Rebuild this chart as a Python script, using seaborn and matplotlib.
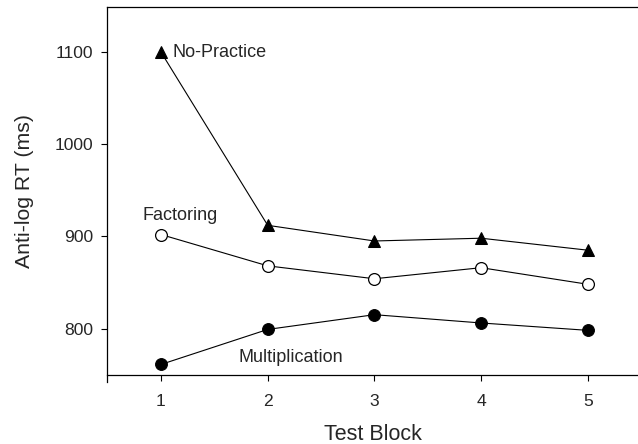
import matplotlib
matplotlib.use("Agg")
import matplotlib.pyplot as plt
import seaborn as sns

# Mean anti-log response times per test block
blocks = [1, 2, 3, 4, 5]
no_practice = [1100, 912, 895, 898, 885]
factoring = [902, 868, 854, 866, 848]
multiplication = [761, 799, 815, 806, 798]

y_ticks = [800, 900, 1000, 1100]

sns.set_style("ticks")
plt.rcParams["font.family"] = ["Liberation Sans", "DejaVu Sans"]

fig = plt.figure(figsize=(6.38, 4.44), dpi=100)
ax = fig.add_axes([0.1677, 0.1543, 0.8323, 0.830])

line_kw = dict(color="black", linewidth=0.8, ax=ax, legend=False)

sns.lineplot(x=blocks, y=no_practice, marker="^", markersize=9,
             markerfacecolor="black", markeredgecolor="black", **line_kw)
sns.lineplot(x=blocks, y=factoring, marker="o", markersize=8.5,
             markerfacecolor="white", markeredgecolor="black",
             markeredgewidth=0.9, **line_kw)
sns.lineplot(x=blocks, y=multiplication, marker="o", markersize=8.5,
             markerfacecolor="black", markeredgecolor="black", **line_kw)

# Series labels placed beside their lines
ax.text(1.11, 1100, "No-Practice", fontsize=13, va="center", ha="left")
ax.text(1.18, 923, "Factoring", fontsize=13, va="center", ha="center")
ax.text(2.22, 769, "Multiplication", fontsize=13, va="center", ha="center")

ax.set_xlim(0.494, 5.47)
ax.set_ylim(749, 1149)
ax.set_xticks(blocks)
ax.set_xticklabels([str(b) for b in blocks])
ax.set_yticks(y_ticks)
ax.set_yticklabels([str(v) for v in y_ticks])
ax.tick_params(axis="both", labelsize=12.6, length=4, width=0.8, color="black",
               direction="out")
ax.tick_params(axis="x", pad=9)
ax.tick_params(axis="y", pad=6)

ax.set_xlabel("Test Block", fontsize=15.5, labelpad=11)
ax.set_ylabel("Anti-log RT (ms)", fontsize=15.3, labelpad=15)

for side in ("left", "bottom", "top"):
    ax.spines[side].set_visible(True)
    ax.spines[side].set_color("black")
    ax.spines[side].set_linewidth(0.9)
ax.spines["right"].set_visible(False)
ax.spines["left"].set_bounds(742, 1149)

fig.savefig("out.png", dpi=100)
